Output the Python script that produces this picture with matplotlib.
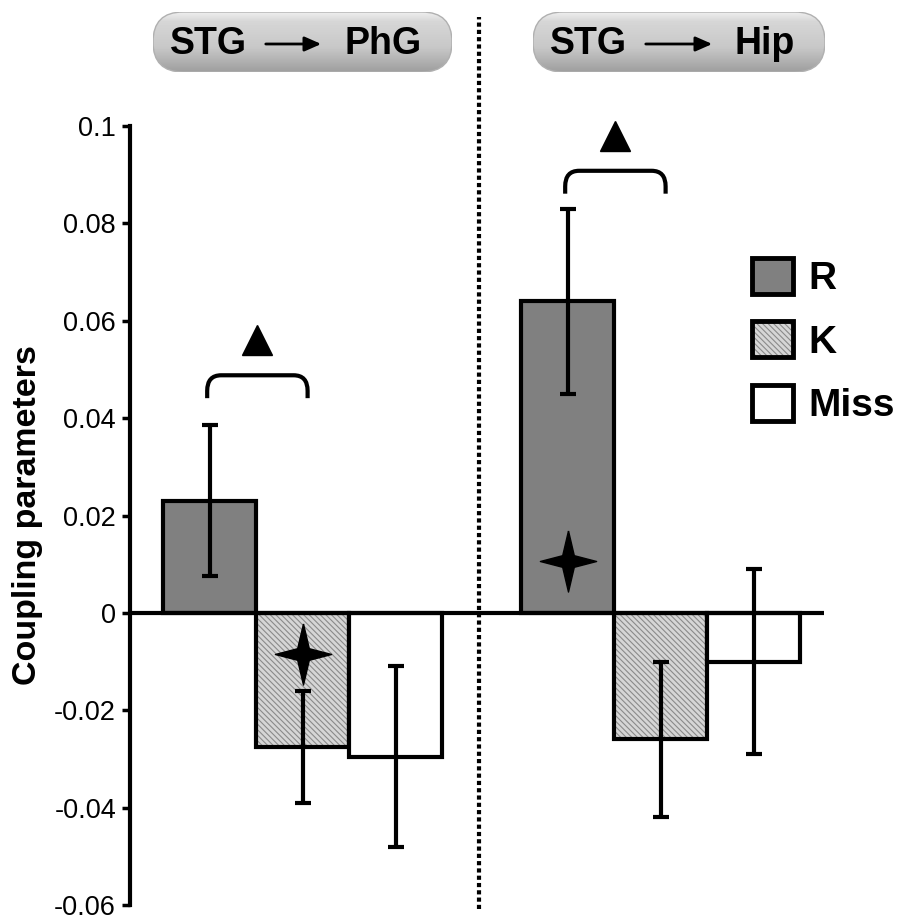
import numpy as np
import matplotlib
matplotlib.use("Agg")
import matplotlib.pyplot as plt
from matplotlib.path import Path
from matplotlib.patches import PathPatch, FancyBboxPatch, FancyArrowPatch, Patch
from matplotlib.legend_handler import HandlerTuple
import matplotlib.transforms as mtransforms

plt.rcParams['font.family'] = ['Liberation Sans', 'DejaVu Sans']
plt.rcParams['hatch.linewidth'] = 0.8

# --- data ---
pathways = ['PhG', 'Hip']
conditions = ['R', 'K', 'Miss']
means_phg = [0.023, -0.0275, -0.0295]
err_phg = [0.0155, 0.0115, 0.0185]
means_hip = [0.064, -0.026, -0.010]
err_hip = [0.019, 0.016, 0.019]

# significance marks (star inside bar, bracket R vs K)
star_cond = ['K', 'R']
star_y = [-0.0085, 0.0107]
bracket_y = [0.0488, 0.0908]

# --- styles ---
face = {'R': '#808080', 'K': '#d6d6d6', 'Miss': '#ffffff'}
W, H = 899, 922
LW = 3.0


def fx(px):
    return px / W


def fy(py):
    return 1 - py / H


fig = plt.figure(figsize=(W / 100, H / 100), dpi=100)
ax = fig.add_axes([fx(130), fy(905), (W - 130) / W, (905 - 126) / H])

group_gap = 3.85
x_groups = [np.arange(3), np.arange(3) + group_gap]
all_means = [means_phg, means_hip]
all_errs = [err_phg, err_hip]

for xs, m, e in zip(x_groups, all_means, all_errs):
    for x, v, s, c in zip(xs, m, e, conditions):
        if c == 'K':
            ax.bar(x, v, width=1.0, color=face[c], edgecolor='#8a8a8a',
                   hatch='\\\\\\\\\\\\', linewidth=0, zorder=2)
            ax.bar(x, v, width=1.0, color='none', edgecolor='black',
                   linewidth=LW, zorder=3)
        else:
            ax.bar(x, v, width=1.0, color=face[c], edgecolor='black',
                   linewidth=LW, zorder=3)
        ax.errorbar(x, v, yerr=s, fmt='none', ecolor='black', elinewidth=LW,
                    capsize=5.5, capthick=LW, zorder=4)

ax.set_xlim(-0.86, 7.41)
ax.set_ylim(-0.06, 0.1)

# zero line
ax.plot([-0.86, 6.6], [0, 0], color='black', lw=LW, solid_capstyle='butt', zorder=5)

# dotted divider between the two pathways
trans = mtransforms.blended_transform_factory(ax.transData, ax.transAxes)
ax.plot([2.89, 2.89], [-0.005, 1.14], transform=trans, color='black', lw=3,
        ls=(0, (1.0, 0.75)), clip_on=False, zorder=1)

# stars
star = Path([(0, 1), (0.19, 0.19), (0.92, 0), (0.19, -0.19), (0, -1),
             (-0.19, -0.19), (-0.92, 0), (-0.19, 0.19), (0, 1)])
for gi, (c, y) in enumerate(zip(star_cond, star_y)):
    x = x_groups[gi][conditions.index(c)]
    ax.plot(x, y, marker=star, ms=44, color='black', mec='black', zorder=6)

# brackets + triangles
for gi, yt in enumerate(bracket_y):
    x0 = x_groups[gi][0] - 0.03
    x1 = x_groups[gi][1] + 0.05
    rx, ry = 0.15, 0.0032
    yb = yt - 0.0047
    verts = [(x0, yb), (x0, yt - ry), (x0, yt), (x0 + rx, yt), (x1 - rx, yt),
             (x1, yt), (x1, yt - ry), (x1, yb)]
    codes = [Path.MOVETO, Path.LINETO, Path.CURVE3, Path.CURVE3, Path.LINETO,
             Path.CURVE3, Path.CURVE3, Path.LINETO]
    ax.add_patch(PathPatch(Path(verts, codes), fill=False, lw=3, edgecolor='black',
                           clip_on=False, zorder=5))
    ax.plot((x0 + x1) / 2, yt + 0.0072, marker='^', ms=21, color='black',
            clip_on=False, zorder=5)

# axes styling
for s in ['top', 'right', 'bottom']:
    ax.spines[s].set_visible(False)
ax.spines['left'].set_linewidth(LW)
ax.spines['left'].set_zorder(6)
ax.set_xticks([])
ax.set_yticks([-0.06, -0.04, -0.02, 0, 0.02, 0.04, 0.06, 0.08, 0.1])
ax.set_yticklabels(['-0.06', '-0.04', '-0.02', '0', '0.02', '0.04', '0.06', '0.08', '0.1'])
ax.tick_params(axis='y', direction='out', length=6, width=2.5, labelsize=19.5, pad=4)
ax.set_ylabel('Coupling parameters', fontsize=24.5, fontweight='bold', labelpad=8)

# legend
handles = [Patch(facecolor=face['R'], edgecolor='black', linewidth=LW + 0.5),
           (Patch(facecolor=face['K'], edgecolor='#8a8a8a', hatch='\\\\\\\\\\\\', linewidth=0),
            Patch(facecolor='none', edgecolor='black', linewidth=LW + 0.5)),
           Patch(facecolor=face['Miss'], edgecolor='black', linewidth=LW + 0.5)]
leg = ax.legend(handles, conditions, handler_map={tuple: HandlerTuple(ndivide=1, pad=0)},
                loc='upper left', bbox_to_anchor=(fx(752), fy(258)),
                bbox_transform=fig.transFigure, frameon=False,
                prop={'size': 28, 'weight': 'bold'},
                handlelength=1.05, handleheight=1.05, handletextpad=0.4,
                labelspacing=0.62, borderpad=0, borderaxespad=0)

# pathway header pills
pills = [(153, 452), (533, 825)]
pill_top, pill_bot = 12, 72
grad = np.linspace(0, 1, 60)[:, None]
shade = np.interp(grad, [0, 0.15, 0.6, 1], [0.93, 0.84, 0.78, 0.62])
for (l, r), name in zip(pills, pathways):
    w, h = r - l, pill_bot - pill_top
    pax = fig.add_axes([fx(l), fy(pill_bot), w / W, h / H])
    pax.set_xlim(0, w)
    pax.set_ylim(0, h)
    pax.axis('off')
    box = FancyBboxPatch((0, 0), w, h, boxstyle='round,pad=0,rounding_size=%g' % (h / 2),
                         facecolor='none', edgecolor='#b0b0b0', lw=1)
    pax.add_patch(box)
    im = pax.imshow(np.repeat(shade, 2, axis=1), cmap='gray', vmin=0, vmax=1,
                    extent=(0, w, 0, h), aspect='auto', origin='upper')
    im.set_clip_path(box)

    cy = fy((pill_top + pill_bot) / 2 + 2)
    tx = l + 17
    fig.text(fx(tx), cy, 'STG', fontsize=27, fontweight='bold', ha='left', va='center')
    fig.text(fx(r - 30), cy, name, fontsize=27, fontweight='bold', ha='right', va='center')
    a0 = l + 110
    a1 = r - 30 - (80 if name == 'PhG' else 62) - 18
    fig.add_artist(FancyArrowPatch(
        (fx(a0), cy), (fx(a1), cy), transform=fig.transFigure,
        arrowstyle='-|>,head_length=0.5,head_width=0.22', mutation_scale=20,
        lw=2, color='black'))

fig.savefig('out.png', dpi=100)
